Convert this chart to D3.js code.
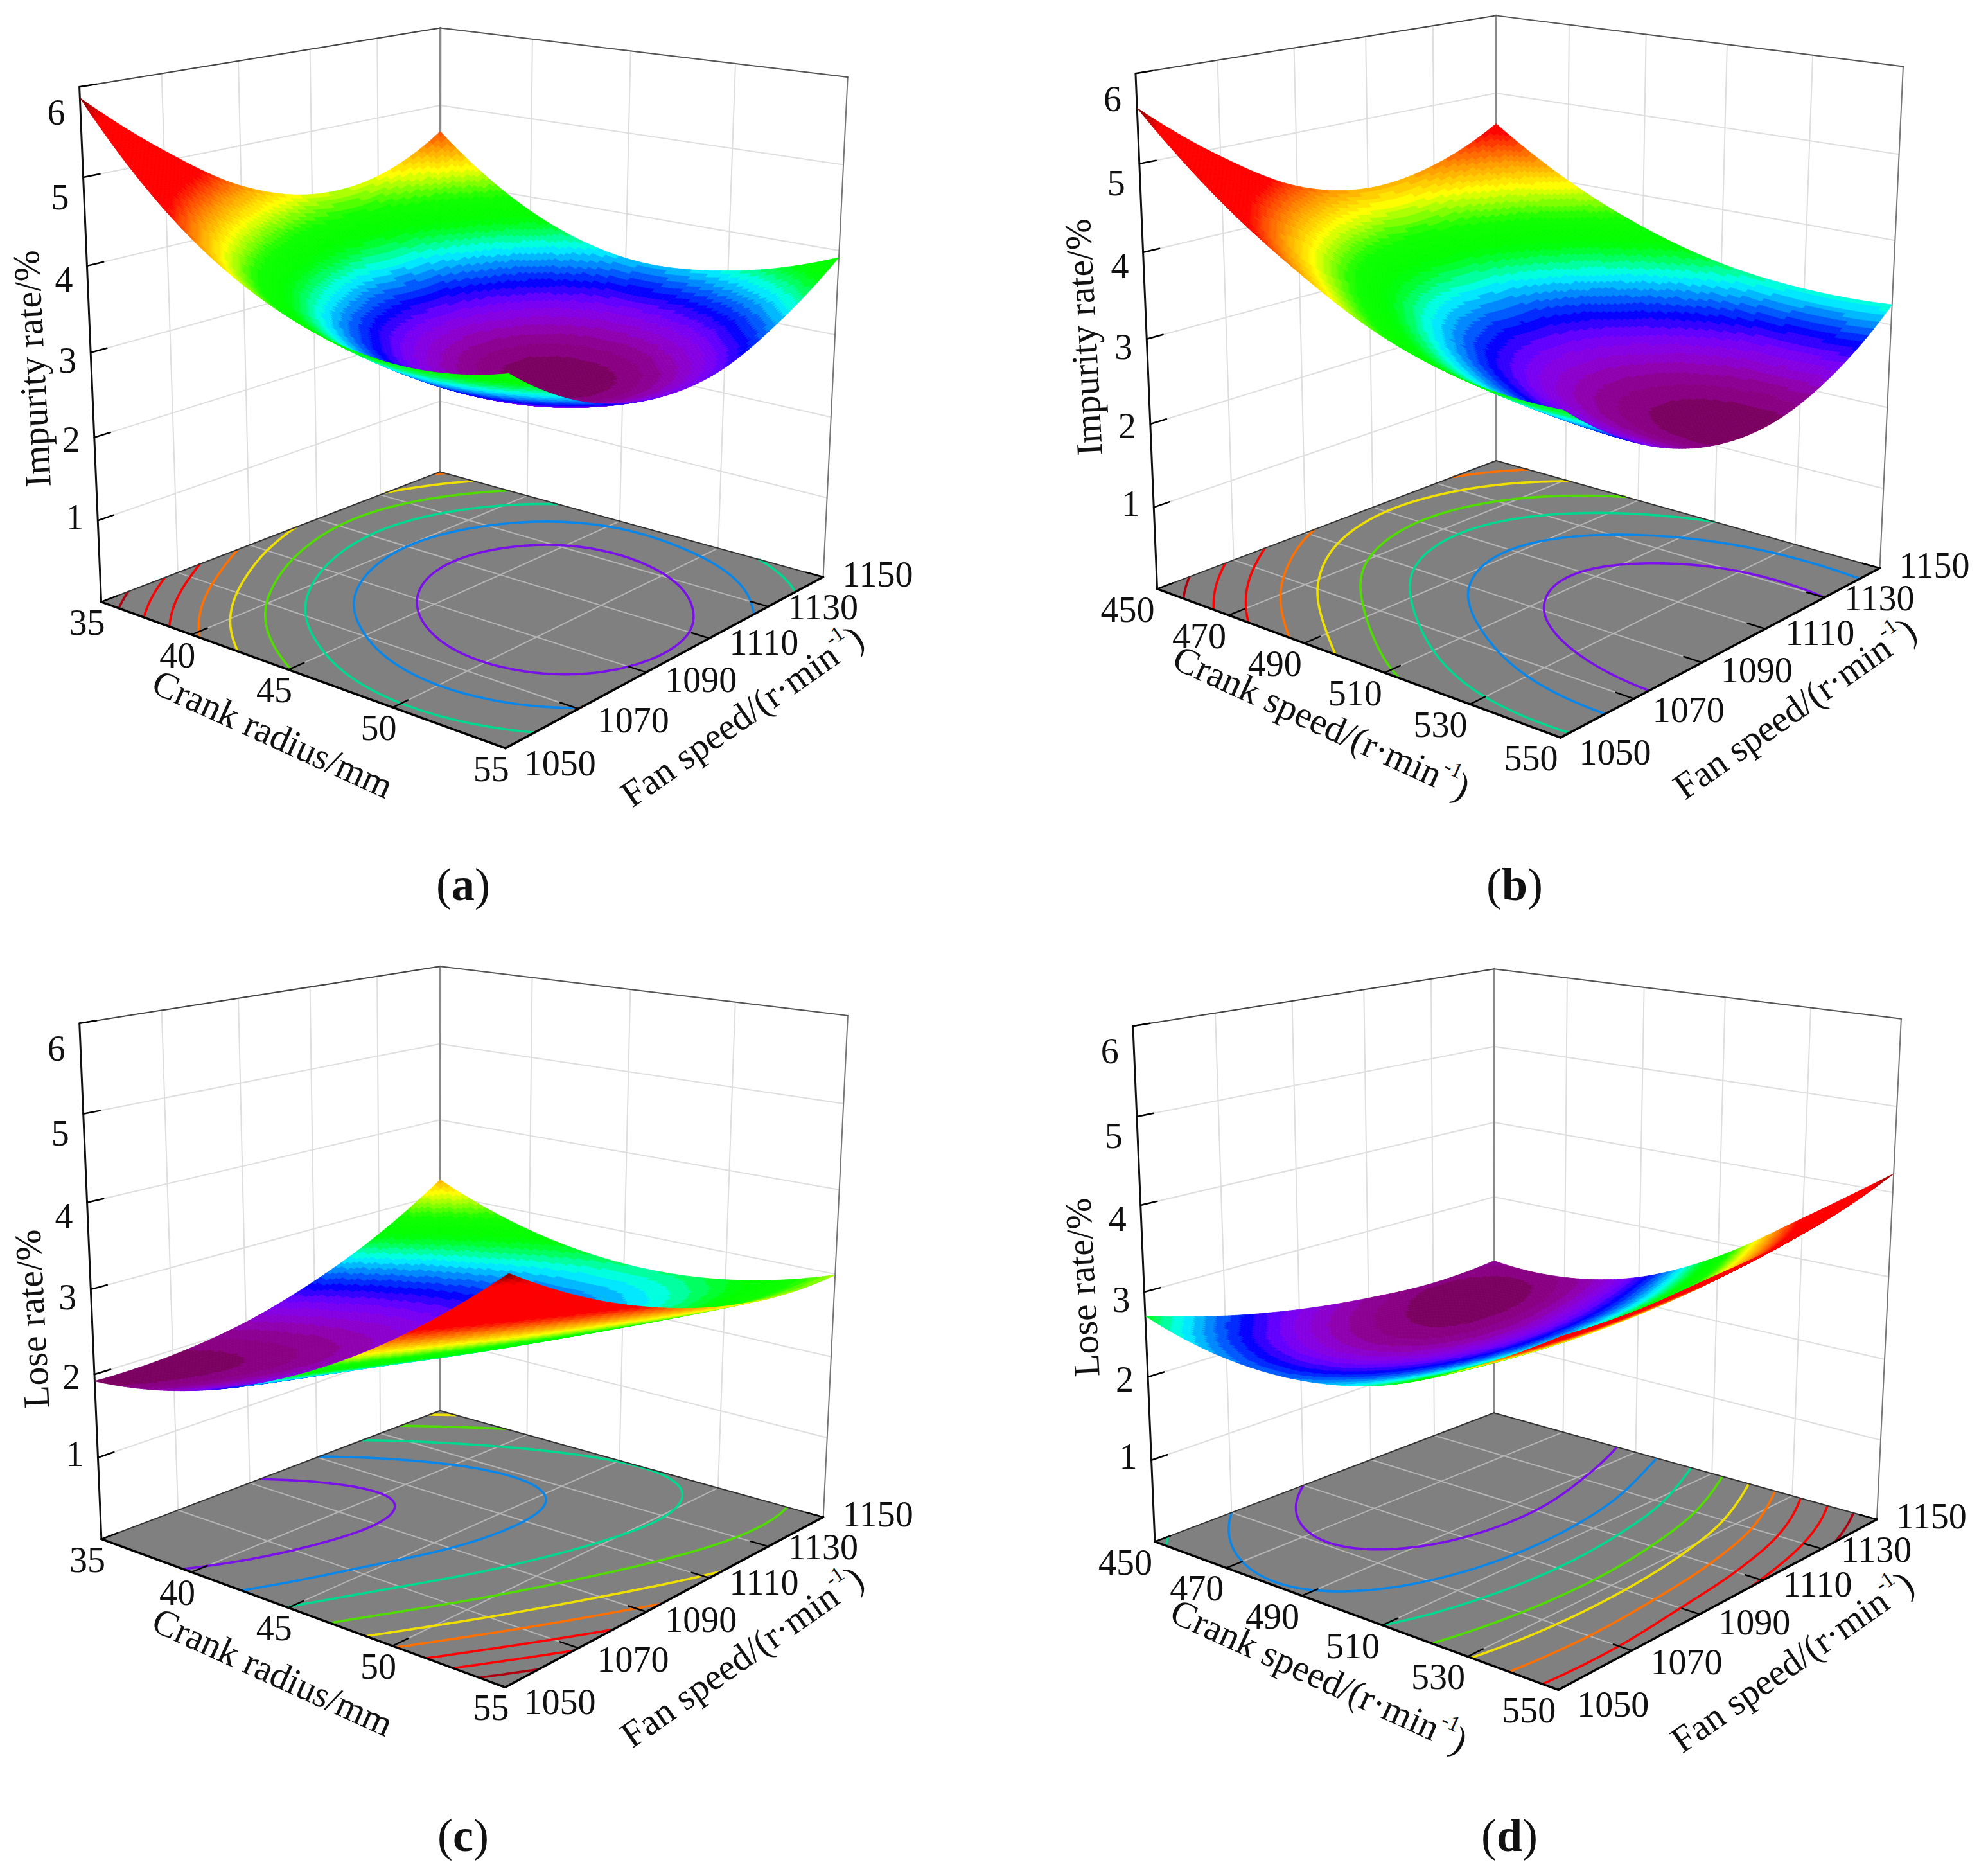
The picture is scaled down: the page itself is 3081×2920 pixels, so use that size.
<!DOCTYPE html>
<html>
<head>
<meta charset="utf-8">
<script src="https://cdnjs.cloudflare.com/ajax/libs/d3/7.8.5/d3.min.js"></script>
<style>
  html, body { margin: 0; padding: 0; background: #fff; }
  text { font-family: "Liberation Serif", serif; fill: #111; }
</style>
</head>
<body>
<svg id="chart" width="3081" height="2920"></svg>
<script>
var radiusTicks = [35, 40, 45, 50, 55];
var crankSpeedTicks = [450, 470, 490, 510, 530, 550];
var fanTicks = [1050, 1070, 1090, 1110, 1130, 1150];
var rateTicks = [1, 2, 3, 4, 5, 6];

// surface heights, rows follow the crank axis, columns follow fanTicks
var impurityByRadius = [
  [5.88, 5.12, 4.52, 4.22, 4.26, 4.66],
  [4.68, 3.95, 3.50, 3.33, 3.45, 3.82],
  [3.98, 3.33, 2.93, 2.80, 2.98, 3.44],
  [3.72, 3.11, 2.77, 2.73, 2.98, 3.52],
  [3.90, 3.33, 3.08, 3.10, 3.42, 3.92]
];
var impurityByCrank = [
  [5.62, 4.90, 4.36, 4.14, 4.24, 4.60],
  [4.82, 4.10, 3.62, 3.45, 3.59, 4.02],
  [4.20, 3.55, 3.10, 2.96, 3.14, 3.60],
  [3.72, 3.14, 2.73, 2.63, 2.84, 3.33],
  [3.46, 2.88, 2.50, 2.43, 2.67, 3.22],
  [3.42, 2.78, 2.44, 2.40, 2.68, 3.24]
];
var loseByRadius = [
  [1.92, 1.94, 2.07, 2.33, 2.70, 3.20],
  [2.13, 2.02, 2.03, 2.16, 2.41, 2.77],
  [2.59, 2.40, 2.28, 2.28, 2.38, 2.59],
  [3.30, 2.96, 2.73, 2.60, 2.57, 2.66],
  [4.27, 3.77, 3.40, 3.14, 3.00, 2.99]
];
var loseByCrank = [
  [2.72, 2.45, 2.26, 2.14, 2.08, 2.13],
  [2.50, 2.28, 2.13, 2.06, 2.05, 2.12],
  [2.48, 2.32, 2.22, 2.19, 2.24, 2.34],
  [2.67, 2.56, 2.51, 2.53, 2.62, 2.82],
  [3.10, 3.03, 3.02, 3.08, 3.22, 3.50],
  [3.68, 3.67, 3.74, 3.82, 3.97, 4.22]
];

// levels of the contour lines on the floor, lowest first
var impurityRadiusLevels = [3.0, 3.32, 3.64, 3.96, 4.28, 4.6, 4.92, 5.24, 5.6];
var impurityCrankLevels = [2.68, 3.0, 3.33, 3.66, 3.99, 4.31, 4.64, 4.97, 5.3];
var loseRadiusLevels = [2.1, 2.34, 2.58, 2.85, 3.1, 3.33, 3.57, 3.8, 4.03];
var loseCrankLevels = [2.26, 2.45, 2.67, 2.9, 3.12, 3.35, 3.57, 3.8, 4.02];

var lineColors = ['#7a10e8', '#0a86e8', '#00d890', '#50dc00', '#f0e000', '#ff7000', '#ff0000', '#ff0000', '#b00010'];

var rampStops = [0, 0.012, 0.02, 0.05, 0.065, 0.09, 0.12, 0.16, 0.2, 0.25, 0.3, 0.33, 0.4, 0.49, 0.58, 0.66, 0.93, 1];
var rampColors = ['#78005a', '#7c0064', '#88007e', '#8e009a', '#9000c0', '#8600e0', '#7000ff', '#0000ff', '#0070ff', '#00ffff', '#00ff40', '#00ff00', '#10ff00', '#ffff00', '#ff8000', '#ff0000', '#ff0000', '#800000'];
var rampBands = 60;

var panels = [
  {
    letter: 'a', grid: impurityByRadius, levels: impurityRadiusLevels, xTicks: radiusTicks,
    zTitle: 'Impurity rate/%', xTitle: ['Crank radius/mm'],
    corners: {backTop: [685, 43], back: [685, 736], leftTop: [124, 135], left: [158, 936], front: [786, 1166], right: [1282, 896], rightTop: [1320, 121]},
    zTitlePos: [50, 574], xTitlePos: [425, 1142], fanTitlePos: [1155, 1114], captionPos: [721, 1379], xLabelOffset: [-22, 32]
  },
  {
    letter: 'b', grid: impurityByCrank, levels: impurityCrankLevels, xTicks: crankSpeedTicks,
    zTitle: 'Impurity rate/%', xTitle: ['Crank speed/(r·min', '-1', ')'],
    corners: {backTop: [2329, 24], back: [2329, 718], leftTop: [1768, 114], left: [1802, 916], front: [2429, 1149], right: [2927, 883], rightTop: [2963, 104]},
    zTitlePos: [1687, 525], xTitlePos: [2058, 1124], fanTitlePos: [2794, 1102], captionPos: [2358, 1379], xLabelOffset: [-46, 32]
  },
  {
    letter: 'c', grid: loseByRadius, levels: loseRadiusLevels, xTicks: radiusTicks,
    zTitle: 'Lose rate/%', xTitle: ['Crank radius/mm'],
    corners: {backTop: [685, 1503], back: [685, 2199], leftTop: [124, 1593], left: [158, 2393], front: [786, 2629], right: [1282, 2358], rightTop: [1320, 1582]},
    zTitlePos: [50, 2053], xTitlePos: [425, 2602], fanTitlePos: [1155, 2578], captionPos: [721, 2859], xLabelOffset: [-22, 32]
  },
  {
    letter: 'd', grid: loseByCrank, levels: loseCrankLevels, xTicks: crankSpeedTicks,
    zTitle: 'Lose rate/%', xTitle: ['Crank speed/(r·min', '-1', ')'],
    corners: {backTop: [2326, 1508], back: [2326, 2200], leftTop: [1764, 1597], left: [1798, 2399], front: [2426, 2631], right: [2922, 2364], rightTop: [2960, 1586]},
    zTitlePos: [1685, 2004], xTitlePos: [2054, 2608], fanTitlePos: [2790, 2586], captionPos: [2350, 2859], xLabelOffset: [-46, 32]
  }
];

var svg = d3.select('#chart');
var meshSteps = 110;
var contourSteps = 140;

// fits a 3x4 camera matrix from the seven visible cube corners
function fitCamera(c) {
  var pairs = [
    [[0, 1, 1], c.backTop], [[0, 1, 0], c.back], [[0, 0, 1], c.leftTop], [[0, 0, 0], c.left],
    [[1, 0, 0], c.front], [[1, 1, 0], c.right], [[1, 1, 1], c.rightTop]
  ];
  var rows = [], rhs = [];
  pairs.forEach(function(p) {
    var X = p[0][0], Y = p[0][1], Z = p[0][2], sx = p[1][0] / 1000, sy = p[1][1] / 1000;
    rows.push([X, Y, Z, 1, 0, 0, 0, 0, -sx * X, -sx * Y, -sx * Z]);
    rhs.push(sx);
    rows.push([0, 0, 0, 0, X, Y, Z, 1, -sy * X, -sy * Y, -sy * Z]);
    rhs.push(sy);
  });
  var n = 11, m = [];
  for (var i = 0; i < n; ++i) {
    m.push([]);
    for (var j = 0; j <= n; ++j) {
      var sum = 0;
      for (var k = 0; k < rows.length; ++k) {
        sum += rows[k][i] * (j < n ? rows[k][j] : rhs[k]);
      }
      m[i].push(sum);
    }
  }
  for (i = 0; i < n; ++i) {
    var best = i;
    for (k = i + 1; k < n; ++k) {
      if (Math.abs(m[k][i]) > Math.abs(m[best][i])) best = k;
    }
    var tmp = m[i]; m[i] = m[best]; m[best] = tmp;
    for (k = 0; k < n; ++k) {
      if (k === i) continue;
      var f = m[k][i] / m[i][i];
      for (j = i; j <= n; ++j) m[k][j] -= f * m[i][j];
    }
  }
  var h = [];
  for (i = 0; i < n; ++i) h.push(m[i][n] / m[i][i]);
  return function(X, Y, Z) {
    var w = h[8] * X + h[9] * Y + h[10] * Z + 1;
    return {
      x: 1000 * (h[0] * X + h[1] * Y + h[2] * Z + h[3]) / w,
      y: 1000 * (h[4] * X + h[5] * Y + h[6] * Z + h[7]) / w,
      w: w
    };
  };
}

// smooth drawing curve through the read values, like a catmull-rom d3 curve
function catmull(v, t) {
  var n = v.length;
  var i = Math.min(Math.floor(t), n - 2);
  var f = t - i;
  var at = function(k) {
    if (k < 0) return 3 * v[0] - 3 * v[1] + v[2];
    if (k >= n) return 3 * v[n - 1] - 3 * v[n - 2] + v[n - 3];
    return v[k];
  };
  var p0 = at(i - 1), p1 = at(i), p2 = at(i + 1), p3 = at(i + 2);
  return 0.5 * (2 * p1 + (p2 - p0) * f + (2 * p0 - 5 * p1 + 4 * p2 - p3) * f * f + (3 * p1 - p0 - 3 * p2 + p3) * f * f * f);
}

function sampleGrid(grid, s, t) {
  var column = grid.map(function(row) {
    return catmull(row, t * (row.length - 1));
  });
  return catmull(column, s * (grid.length - 1));
}

function drawPanel(panel) {
  var g = svg.append('g').attr('class', 'panel-' + panel.letter);
  var camera = fitCamera(panel.corners);
  var xScale = d3.scaleLinear().domain(d3.extent(panel.xTicks)).range([0, 1]);
  var yScale = d3.scaleLinear().domain(d3.extent(fanTicks)).range([0, 1]);
  var zScale = d3.scaleLinear().domain([0, 6]).range([0, 1]);
  var x0 = xScale.domain()[0], x1 = xScale.domain()[1];
  var y0 = yScale.domain()[0], y1 = yScale.domain()[1];
  var project = function(x, y, z) {
    return camera(xScale(x), yScale(y), zScale(z));
  };
  var segment = function(parent, a, b, color, width) {
    parent.append('line').attr('x1', a.x).attr('y1', a.y).attr('x2', b.x).attr('y2', b.y)
      .attr('stroke', color).attr('stroke-width', width).attr('stroke-linecap', 'round');
  };
  var outline = function(points) {
    return 'M' + points.map(function(p) { return p.x.toFixed(1) + ',' + p.y.toFixed(1); }).join('L') + 'Z';
  };

  // walls
  var walls = g.append('g');
  fanTicks.slice(1, -1).forEach(function(y) {
    segment(walls, project(x0, y, 0), project(x0, y, 6), '#dedede', 2);
  });
  panel.xTicks.slice(1, -1).forEach(function(x) {
    segment(walls, project(x, y1, 0), project(x, y1, 6), '#dedede', 2);
  });
  rateTicks.forEach(function(z) {
    segment(walls, project(x0, y0, z), project(x0, y1, z), '#dedede', 2);
    segment(walls, project(x0, y1, z), project(x1, y1, z), '#dedede', 2);
  });

  // floor
  g.append('path')
    .attr('d', outline([project(x0, y0, 0), project(x0, y1, 0), project(x1, y1, 0), project(x1, y0, 0)]))
    .attr('fill', '#808080');
  fanTicks.slice(1, -1).forEach(function(y) {
    segment(g, project(x0, y, 0), project(x1, y, 0), '#b4b4b4', 2);
  });
  panel.xTicks.slice(1, -1).forEach(function(x) {
    segment(g, project(x, y0, 0), project(x, y1, 0), '#b4b4b4', 2);
  });

  // contour lines on the floor
  var size = contourSteps + 1;
  var values = new Array(size * size);
  for (var cy = 0; cy < size; ++cy) {
    for (var cx = 0; cx < size; ++cx) {
      values[cx + cy * size] = sampleGrid(panel.grid, cx / contourSteps, cy / contourSteps);
    }
  }
  var contours = d3.contours().size([size, size]).thresholds(panel.levels)(values);
  var clamp01 = function(v) {
    return Math.max(0, Math.min(1, v));
  };
  var line = d3.line().x(function(d) { return d.x; }).y(function(d) { return d.y; });
  contours.forEach(function(contour, index) {
    var runs = [];
    contour.coordinates.forEach(function(polygon) {
      polygon.forEach(function(ring) {
        var run = [], prev = null;
        ring.forEach(function(c) {
          var fx = clamp01((c[0] - 0.5) / contourSteps), fy = clamp01((c[1] - 0.5) / contourSteps);
          var onEdge = prev && ((fx === prev[0] && (fx === 0 || fx === 1)) || (fy === prev[1] && (fy === 0 || fy === 1)));
          if (onEdge) {
            if (run.length > 1) runs.push(run);
            run = [];
          }
          run.push(project(xScale.invert(fx), yScale.invert(fy), 0));
          prev = [fx, fy];
        });
        if (run.length > 1) runs.push(run);
      });
    });
    g.append('g').selectAll('path').data(runs).enter().append('path')
      .attr('d', line)
      .attr('fill', 'none')
      .attr('stroke', lineColors[index])
      .attr('stroke-width', 3.6)
      .attr('stroke-linejoin', 'round');
  });

  // box edges and ticks
  segment(g, project(x0, y0, 0), project(x0, y0, 6), '#111', 3);
  segment(g, project(x0, y1, 0), project(x0, y1, 6), '#8a8a8a', 3.5);
  segment(g, project(x1, y1, 0), project(x1, y1, 6), '#777', 2);
  segment(g, project(x0, y0, 6), project(x0, y1, 6), '#444', 2);
  segment(g, project(x0, y1, 6), project(x1, y1, 6), '#555', 2);
  segment(g, project(x0, y0, 0), project(x0, y1, 0), '#333', 2);
  segment(g, project(x0, y1, 0), project(x1, y1, 0), '#333', 2);
  segment(g, project(x0, y0, 0), project(x1, y0, 0), '#000', 3.5);
  segment(g, project(x1, y0, 0), project(x1, y1, 0), '#000', 3.5);

  var tickSpanX = (x1 - x0) * 0.04, tickSpanY = (y1 - y0) * 0.04;
  panel.xTicks.forEach(function(x) {
    segment(g, project(x, y0, 0), project(x, y0 + tickSpanY, 0), '#000', 2.5);
  });
  fanTicks.forEach(function(y) {
    segment(g, project(x1, y, 0), project(x1 - tickSpanX, y, 0), '#000', 2.5);
  });
  rateTicks.forEach(function(z) {
    segment(g, project(x0, y0, z), project(x0, y0 + tickSpanY, z), '#000', 2.5);
  });

  // surface, far quads first
  var fine = [];
  for (var i = 0; i <= meshSteps; ++i) {
    fine.push([]);
    for (var j = 0; j <= meshSteps; ++j) {
      fine[i].push(sampleGrid(panel.grid, i / meshSteps, j / meshSteps));
    }
  }
  var zMin = d3.min(fine, function(r) { return d3.min(r); });
  var zMax = d3.max(fine, function(r) { return d3.max(r); });
  var ramp = d3.scaleLinear().domain(rampStops).range(rampColors).interpolate(d3.interpolateRgb);
  var bandColors = d3.range(rampBands).map(function(b) {
    return ramp((b + 0.5) / rampBands);
  });
  var colorScale = d3.scaleQuantize().domain([zMin, zMax]).range(bandColors);

  var quads = [];
  var dataX = function(i) { return xScale.invert(i / meshSteps); };
  var dataY = function(j) { return yScale.invert(j / meshSteps); };
  for (i = 0; i < meshSteps; ++i) {
    for (j = 0; j < meshSteps; ++j) {
      var points = [
        project(dataX(i), dataY(j), fine[i][j]),
        project(dataX(i + 1), dataY(j), fine[i + 1][j]),
        project(dataX(i + 1), dataY(j + 1), fine[i + 1][j + 1]),
        project(dataX(i), dataY(j + 1), fine[i][j + 1])
      ];
      quads.push({
        points: points,
        z: (fine[i][j] + fine[i + 1][j] + fine[i + 1][j + 1] + fine[i][j + 1]) / 4,
        depth: d3.mean(points, function(p) { return p.w; })
      });
    }
  }
  var farther = project(x0, y1, 0).w > project(x1, y0, 0).w ? -1 : 1;
  quads.sort(function(a, b) {
    return farther * (a.depth - b.depth);
  });
  g.append('g').selectAll('path').data(quads).enter().append('path')
    .attr('d', function(d) { return outline(d.points); })
    .attr('fill', function(d) { return colorScale(d.z); })
    .attr('stroke', function(d) { return colorScale(d.z); })
    .attr('stroke-width', 0.8)
    .attr('stroke-linejoin', 'round');

  // tick labels
  var labels = g.append('g').attr('font-size', 56).attr('text-anchor', 'middle').attr('dominant-baseline', 'central');
  labels.append('g').selectAll('text').data(rateTicks).enter().append('text')
    .attr('x', function(d) { return project(x0, y0, d).x - 36; })
    .attr('y', function(d) { return project(x0, y0, d).y - 5.5 + 9 * (d - 1); })
    .text(function(d) { return d; });
  labels.append('g').selectAll('text').data(panel.xTicks).enter().append('text')
    .attr('x', function(d) { return project(d, y0, 0).x + panel.xLabelOffset[0]; })
    .attr('y', function(d) { return project(d, y0, 0).y + panel.xLabelOffset[1]; })
    .text(function(d) { return d; });
  labels.append('g').selectAll('text').data(fanTicks).enter().append('text')
    .attr('x', function(d) { return project(x1, d, 0).x + 85; })
    .attr('y', function(d, i) { return project(x1, d, 0).y + 23 - 5.5 * i; })
    .text(function(d) { return d; });

  // axis titles
  var rotated = function(pos, angle) {
    return g.append('text').attr('font-size', 58).attr('text-anchor', 'middle')
      .attr('dominant-baseline', 'central')
      .attr('transform', 'translate(' + pos[0] + ',' + pos[1] + ') rotate(' + angle + ')');
  };
  var withPower = function(node, parts) {
    node.append('tspan').text(parts[0]);
    if (parts.length > 1) {
      node.append('tspan').attr('font-size', 34).attr('dy', -20).text(parts[1]);
      node.append('tspan').attr('dy', 20).text(parts[2]);
    }
  };
  rotated(panel.zTitlePos, -93).text(panel.zTitle);
  withPower(rotated(panel.xTitlePos, 24.5), panel.xTitle);
  withPower(rotated(panel.fanTitlePos, -35), ['Fan speed/(r·min', '-1', ')']);

  // caption
  var caption = g.append('text').attr('x', panel.captionPos[0]).attr('y', panel.captionPos[1] - 2)
    .attr('font-size', 72).attr('text-anchor', 'middle').attr('dominant-baseline', 'central');
  caption.append('tspan').text('(');
  caption.append('tspan').attr('font-weight', 'bold').text(panel.letter);
  caption.append('tspan').text(')');
}

panels.forEach(drawPanel);
</script>
</body>
</html>
